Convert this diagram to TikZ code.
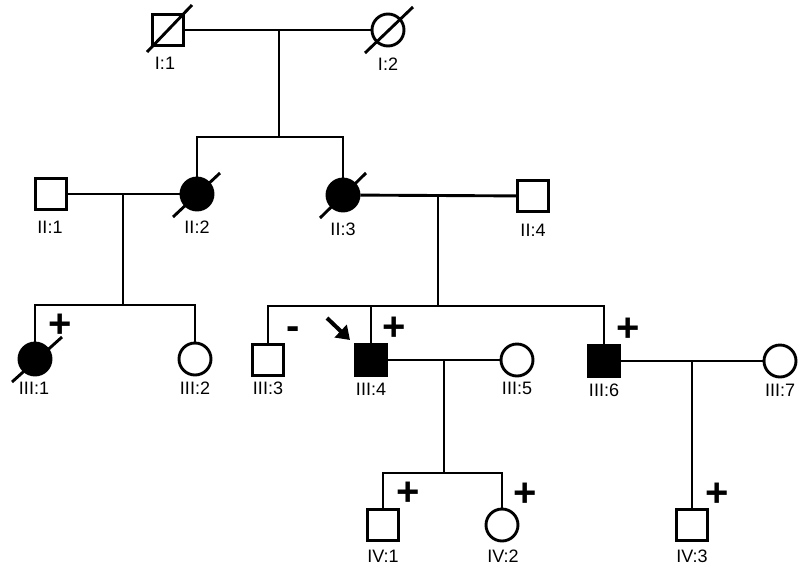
\documentclass[tikz,border=0pt]{standalone}
\usepackage{fontspec}
\setmainfont{Liberation Sans}
\usetikzlibrary{arrows.meta}
\begin{document}
\begin{tikzpicture}[x=1pt,y=-1pt,line width=2.9pt,
  male/.style={draw,rectangle,minimum size=31pt,inner sep=0pt,line width=2.9pt},
  female/.style={draw,circle,minimum size=32pt,inner sep=0pt,line width=2.9pt},
  aff/.style={fill=black},
  lbl/.style={font=\fontsize{18}{18}\selectfont,inner sep=0pt},
  pm/.style={font=\fontsize{40}{40}\selectfont\bfseries,inner sep=0pt},
  slash/.style={line width=2.9pt}]
\useasboundingbox (0,0) rectangle (798,566);
% Generation I
\node[male] (I1) at (168,30) {};
\node[female] (I2) at (388,30) {};
% Generation II
\node[male] (II1) at (51,194) {};
\node[female,aff] (II2) at (197,194) {};
\node[female,aff] (II3) at (343,195) {};
\node[male] (II4) at (533,196) {};
% Generation III
\node[female,aff] (III1) at (35,359) {};
\node[female] (III2) at (195,359) {};
\node[male] (III3) at (268,360) {};
\node[male,aff] (III4) at (371,360) {};
\node[female] (III5) at (517,360) {};
\node[male,aff] (III6) at (604,361) {};
\node[female] (III7) at (780,361) {};
% Generation IV
\node[male] (IV1) at (383,525) {};
\node[female] (IV2) at (502,525) {};
\node[male] (IV3) at (692,525) {};
% coordinates
\coordinate (m1) at (279,30);
\coordinate (s1) at (279,137);
\coordinate (m2) at (123,194);
\coordinate (s2) at (123,305);
\coordinate (m3) at (438,196);
\coordinate (s3) at (438,306);
\coordinate (m4) at (444,360);
\coordinate (s4) at (444,473);
\coordinate (m5) at (692,361);
% lines
\draw (I1) -- (I2);
\draw (m1) -- (s1);
\draw (II2.north) |- (s1) -| (II3.north);
\draw (II1) -- (II2);
\draw (m2) -- (s2);
\draw (III1.north) |- (s2) -| (III2.north);
\draw (II3) -- (II4);
\draw (m3) -- (s3);
\draw (III3.north) |- (s3) -| (III6.north);
\draw (III4.north) -- (III4.north |- s3);
\draw (III4) -- (III5);
\draw (m4) -- (s4);
\draw (IV1.north) |- (s4) -| (IV2.north);
\draw (III6) -- (III7);
\draw (m5) -- (IV3.north);
% deceased slashes
\draw[slash] (147,52) -- (192,5);
\draw[slash] (365,53) -- (413,7);
\draw[slash] (173,217) -- (220,173);
\draw[slash] (320,218) -- (366,173);
\draw[slash] (12,382) -- (62,337);
% proband arrow
\coordinate (pa) at (327,318);
\coordinate (pb) at (350,340);
\draw[line width=4pt,-{Triangle[length=13pt,width=17pt]}] (pa) -- (pb);
% plus / minus
\node[pm] (p1) at (60,326) {+};
\node[pm] (p2) at (394,329) {+};
\node[pm] (p3) at (628,330) {+};
\node[pm] (p4) at (408,494) {+};
\node[pm] (p5) at (525,495) {+};
\node[pm] (p6) at (717,495) {+};
\node[pm] (mn) at (293,333) {-};
% labels
\node[lbl] (lI1) at (165,63) {I:1};
\node[lbl] (lI2) at (388,64) {I:2};
\node[lbl] (lII1) at (50,227) {II:1};
\node[lbl] (lII2) at (197,227) {II:2};
\node[lbl] (lII3) at (343,229) {II:3};
\node[lbl] (lII4) at (533,230) {II:4};
\node[lbl] (lIII1) at (34,388) {III:1};
\node[lbl] (lIII2) at (195,388) {III:2};
\node[lbl] (lIII3) at (268,388) {III:3};
\node[lbl] (lIII4) at (371,389) {III:4};
\node[lbl] (lIII5) at (517,388) {III:5};
\node[lbl] (lIII6) at (604,390) {III:6};
\node[lbl] (lIII7) at (780,390) {III:7};
\node[lbl] (lIV1) at (383,556) {IV:1};
\node[lbl] (lIV2) at (503,556) {IV:2};
\node[lbl] (lIV3) at (692,556) {IV:3};
\end{tikzpicture}
\end{document}
